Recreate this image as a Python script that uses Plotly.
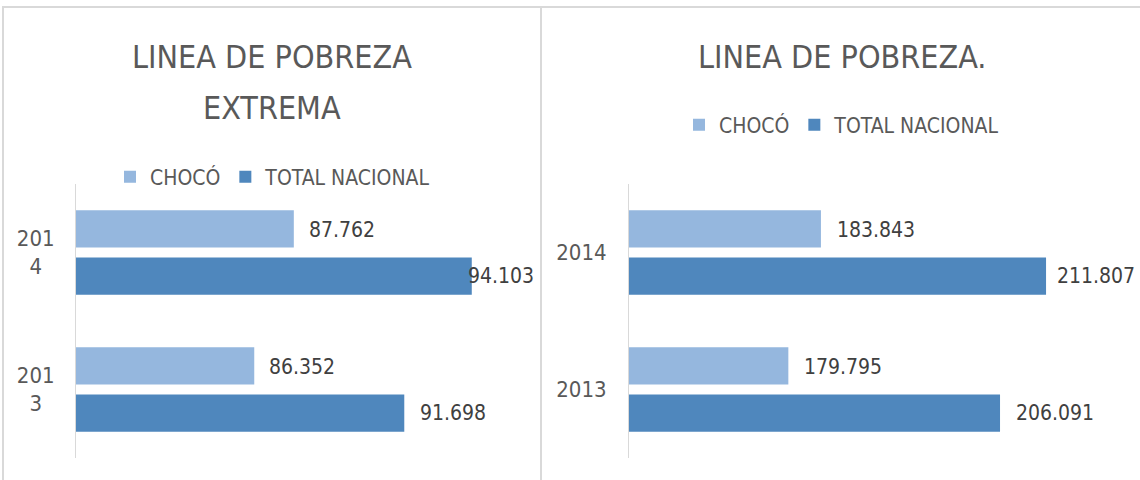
import plotly.graph_objects as go

years = ["2013", "2014"]
left_ticks = ["201<br>3\u00a0\u00a0", "201<br>4\u00a0\u00a0"]
right_ticks = ["2013", "2014"]
series_names = ["CHOCÓ", "TOTAL NACIONAL"]
extrema_choco = [86.352, 87.762]
extrema_total = [91.698, 94.103]
pobreza_choco = [179.795, 183.843]
pobreza_total = [206.091, 211.807]
title_left_lines = ["LINEA DE POBREZA", "EXTREMA"]
title_right = "LINEA DE POBREZA."

C_LIGHT = "#95B7DE"
C_DARK = "#4F87BD"
FONT = "DejaVu Sans Condensed, Liberation Sans, sans-serif"
TXT = "#404040"
GREY = "#595959"
W, H = 1140, 480

fig = go.Figure()

def add_bars(vals_total, vals_choco, xa, ya, legend):
    fig.add_trace(go.Bar(y=years, x=vals_total, orientation="h", name=series_names[1],
                         marker=dict(color=C_DARK, line=dict(width=0)),
                         xaxis=xa, yaxis=ya, legend=legend, legendrank=2))
    fig.add_trace(go.Bar(y=years, x=vals_choco, orientation="h", name=series_names[0],
                         marker=dict(color=C_LIGHT, line=dict(width=0)),
                         xaxis=xa, yaxis=ya, legend=legend, legendrank=1))

add_bars(extrema_total, extrema_choco, "x", "y", "legend")
add_bars(pobreza_total, pobreza_choco, "x2", "y2", "legend2")

annotations = []
def labels(vals, xref, yref, offset, shifts):
    for i, v in enumerate(vals):
        annotations.append(dict(x=v, y=i, xref=xref, yref=yref, text=f"{v:.3f}",
                                showarrow=False, xanchor="left", xshift=shifts[i],
                                yshift=offset, font=dict(family=FONT, size=21, color=TXT)))

labels(extrema_choco, "x", "y", 23, [13, 13])
labels(extrema_total, "x", "y", -23, [14, -6])
labels(pobreza_choco, "x2", "y2", 23, [14, 14])
labels(pobreza_total, "x2", "y2", -23, [14, 9])

for line, yc in zip(title_left_lines, [57, 108]):
    annotations.append(dict(x=272/W, y=1-yc/H, xref="paper", yref="paper", text=line,
                            showarrow=False, xanchor="center", yanchor="middle",
                            font=dict(family=FONT, size=32, color=GREY)))
annotations.append(dict(x=842/W, y=1-57/H, xref="paper", yref="paper", text=title_right,
                        showarrow=False, xanchor="center", yanchor="middle",
                        font=dict(family=FONT, size=32, color=GREY)))

shapes = [
    dict(type="rect", xref="paper", yref="paper", x0=3/W, x1=541/W, y0=-0.01, y1=1-7/H,
         line=dict(color="#D9D9D9", width=2)),
    dict(type="rect", xref="paper", yref="paper", x0=541/W, x1=1.01, y0=-0.01, y1=1-7/H,
         line=dict(color="#D9D9D9", width=2)),
]

axis_common = dict(showgrid=False, zeroline=False, showticklabels=False, showline=False, fixedrange=True)
ydom = [1-458/H, 1-184/H]
yax_common = dict(domain=ydom, type="category", range=[-0.5, 1.5], showline=True,
                  linecolor="#D9D9D9", linewidth=1, showgrid=False, ticks="",
                  tickfont=dict(family=FONT, size=22, color=GREY), fixedrange=True)
fig.update_layout(
    width=W, height=H,
    margin=dict(l=0, r=0, t=0, b=0),
    paper_bgcolor="white", plot_bgcolor="white",
    barmode="group", bargap=0.31, bargroupgap=0.21,
    font=dict(family=FONT, color=TXT),
    xaxis=dict(domain=[76/W, 525/W], range=[80, 96], **axis_common),
    xaxis2=dict(domain=[629/W, 1112/W], range=[160, 220], **axis_common),
    yaxis=dict(anchor="x", tickvals=years, ticktext=left_ticks, ticklabelstandoff=16, **yax_common),
    yaxis2=dict(anchor="x2", tickvals=years, ticktext=right_ticks, ticklabelstandoff=17, **yax_common),
    legend=dict(orientation="h", x=273/W, y=1-177/H, xanchor="center", yanchor="middle",
                font=dict(family=FONT, size=21, color=GREY), itemwidth=30,
                bgcolor="rgba(0,0,0,0)"),
    legend2=dict(orientation="h", x=842/W, y=1-125/H, xanchor="center", yanchor="middle",
                 font=dict(family=FONT, size=21, color=GREY), itemwidth=30,
                 bgcolor="rgba(0,0,0,0)"),
    annotations=annotations, shapes=shapes,
)

fig.write_html("out.html", config={"displayModeBar": False},
               post_script="document.body.style.margin='0';")
